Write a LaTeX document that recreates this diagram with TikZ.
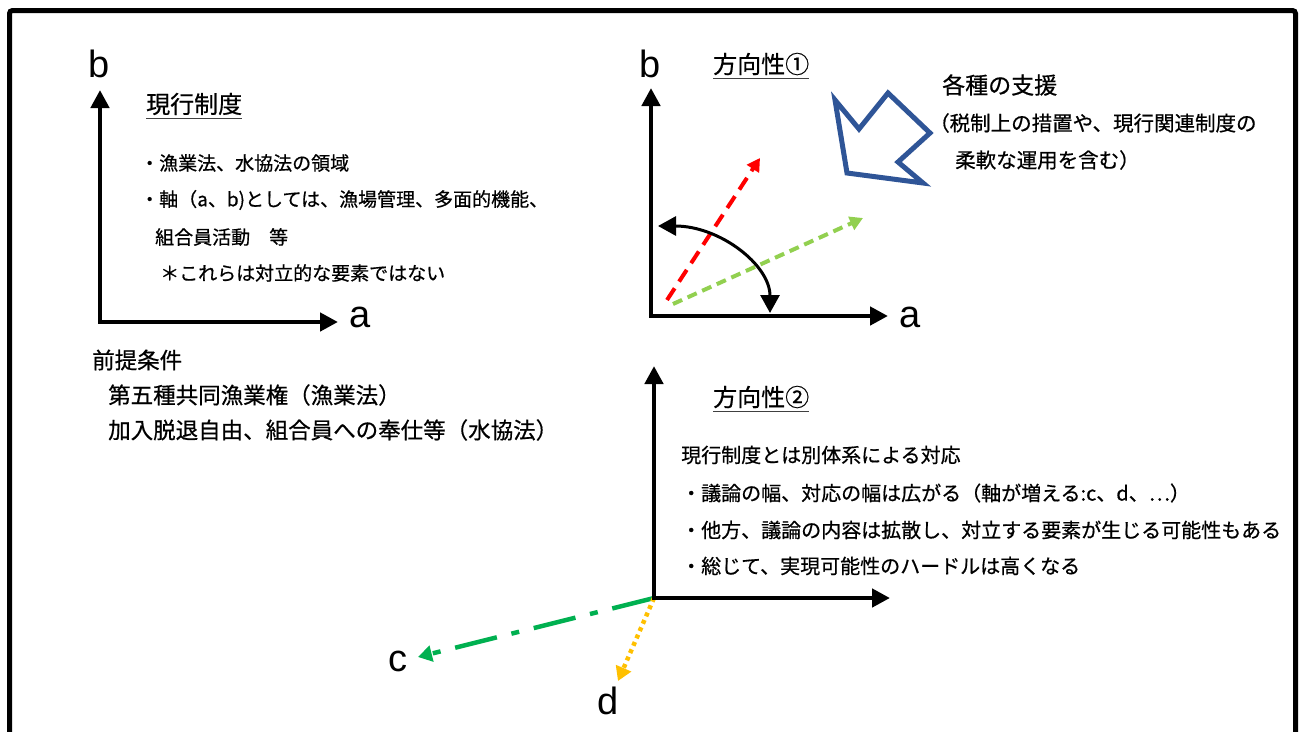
\documentclass[tikz,border=0pt]{standalone}
\usepackage{fontspec}
\setmainfont{Liberation Sans}
\newfontfamily\jp[FakeBold=0.6]{Noto Sans CJK JP}
\usetikzlibrary{arrows.meta}
\definecolor{redd}{RGB}{255,0,0}
\definecolor{lgreen}{RGB}{146,208,80}
\definecolor{dgreen}{RGB}{0,176,80}
\definecolor{orng}{RGB}{255,192,0}
\definecolor{navy}{RGB}{47,85,151}
\begin{document}
\begin{tikzpicture}[x=1pt,y=-1pt,
  axis/.style={line width=4.5pt,line join=miter,{Triangle[length=18pt,width=18pt]}-{Triangle[length=18pt,width=18pt]}},
  lbl/.style={font=\fontsize{38}{40}\selectfont, inner sep=0pt},
  jt/.style={font=\jp\fontsize{20}{24}\selectfont, anchor=west, inner sep=0pt},
  jl/.style={font=\jp\fontsize{19}{24}\selectfont, anchor=west, inner sep=0pt},
  jp/.style={font=\jp\fontsize{22.5}{26}\selectfont, anchor=west, inner sep=0pt},
  ttl/.style={font=\jp\fontsize{24}{28}\selectfont, anchor=west, inner sep=0pt},
  uline/.style={line width=1.5pt, black!75},
  tip/.style={-{Triangle[length=13pt,width=14pt]}}
]
\useasboundingbox (0,0) rectangle (1303,731);
\draw[line width=5pt, rounded corners=3pt] (9.5,10.5) rectangle (1295.5,780);

% ---------- panel 1 ----------
\coordinate (o1) at (100,322);
\coordinate (b1t) at (100,90);
\coordinate (a1t) at (338,322);
\draw[axis] (b1t) -- (o1) -- (a1t);
\node[lbl] (b1) at (99,64) {b};
\node[lbl] (a1) at (360,317) {a};
\node[ttl] (t1) at (146,104) {現行制度};
\draw[uline] ([yshift=-3pt]t1.south west) -- ([yshift=-3pt]t1.south east);
\node[jl] (l1) at (140,163) {・漁業法、水協法の領域};
\node[jl] (l2) at (140,200) {・軸（a、b)としては、漁場管理、多面的機能、};
\node[jl] (l3) at (155,237) {組合員活動　等};
\node[jl] (l4) at (160,273) {＊これらは対立的な要素ではない};

\node[jp] (p1) at (92,360) {前提条件};
\node[jp] (p2) at (108,395) {第五種共同漁業権（漁業法）};
\node[jp] (p3) at (108,430) {加入脱退自由、組合員への奉仕等（水協法）};

% ---------- panel 2 ----------
\coordinate (o2) at (651,316);
\coordinate (b2t) at (651,88);
\coordinate (a2t) at (888,316);
\coordinate (rs) at (667,300);
\coordinate (re) at (760,158);
\coordinate (gs) at (673,304);
\coordinate (ge) at (863,218);
\draw[line width=4pt, redd, dash pattern=on 14pt off 8pt, tip] (rs) -- (re);
\draw[line width=4pt, lgreen, dash pattern=on 10pt off 6pt, tip] (gs) -- (ge);
\coordinate (arcs) at (658,226);
\draw[line width=3pt, {Triangle[length=18pt,width=19pt]}-{Triangle[length=18pt,width=19pt]}]
  (arcs) arc[start angle=90, end angle=0, x radius=112, y radius=-87];
\draw[axis] (b2t) -- (o2) -- (a2t);
\node[lbl] (b2) at (650,64) {b};
\node[lbl] (a2) at (910,317) {a};
\node[ttl] (t2) at (713,64) {方向性①};
\draw[uline] ([yshift=-3pt]t2.south west) -- ([yshift=-3pt]t2.south east);

\draw[navy, line width=5pt, line join=miter]
  (847,173) -- (835,100) -- (859,129) -- (888,93) -- (930,133) -- (898,162) -- (923,183) -- cycle;
\node[font=\jp\fontsize{23}{26}\selectfont, anchor=west, inner sep=0pt] (s1) at (942,85) {各種の支援};
\node[font=\jp\fontsize{20.5}{24}\selectfont, anchor=west, inner sep=0pt] (s2) at (929,123) {（税制上の措置や、現行関連制度の};
\node[font=\jp\fontsize{20.5}{24}\selectfont, anchor=west, inner sep=0pt] (s3) at (955,160) {柔軟な運用を含む）};

% ---------- panel 3 ----------
\coordinate (o3) at (654,598);
\coordinate (b3t) at (654,366);
\coordinate (a3t) at (890,598);
\coordinate (ce) at (418,657);
\coordinate (de) at (618,681);
\draw[line width=4.5pt, dgreen, dash pattern=on 43pt off 15pt on 8pt off 15pt, -{Triangle[length=14pt,width=16pt]}] (o3) -- (ce);
\draw[line width=4.5pt, orng, dash pattern=on 4pt off 4pt, -{Triangle[length=14pt,width=16pt]}] (o3) -- (de);
\draw[axis] (b3t) -- (o3) -- (a3t);
\node[lbl] (c) at (398,661) {c};
\node[lbl] (d) at (608,701) {d};
\node[ttl] (t3) at (713,397) {方向性②};
\draw[uline] ([yshift=-3pt]t3.south west) -- ([yshift=-3pt]t3.south east);
\node[jt] (m1) at (681,455) {現行制度とは別体系による対応};
\node[jt] (m2) at (681,493) {・議論の幅、対応の幅は広がる（軸が増える:c、d、⋯）};
\node[jt] (m3) at (681,530) {・他方、議論の内容は拡散し、対立する要素が生じる可能性もある};
\node[jt] (m4) at (681,566) {・総じて、実現可能性のハードルは高くなる};
\end{tikzpicture}
\end{document}
